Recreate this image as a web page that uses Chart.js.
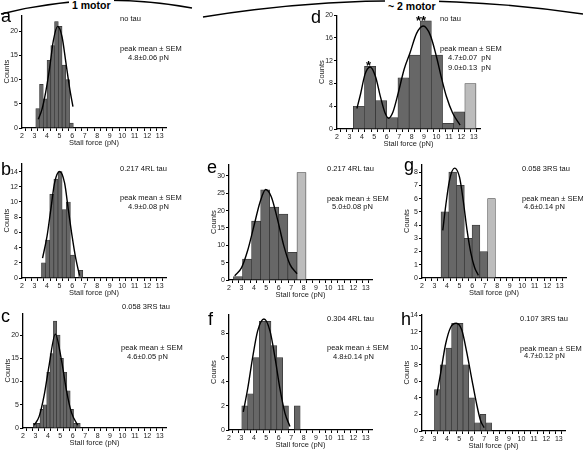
<!DOCTYPE html>
<html>
<head>
<meta charset="utf-8">
<script src="https://cdn.jsdelivr.net/npm/chart.js@4.4.1/dist/chart.umd.min.js"></script>
<style>
  body { margin: 0; background: #fff; }
  #fig { position: relative; width: 583px; height: 450px; overflow: hidden; font-family: "Liberation Sans", Arial, sans-serif; }
  #fig canvas { position: absolute; }
  .t { position: absolute; font-size: 7.5px; line-height: 9px; white-space: pre; color: #111; }
  .lt { position: absolute; font-size: 18px; line-height: 18px; color: #000; }
  .hd { position: absolute; font-weight: bold; font-size: 10.5px; line-height: 12px; background: #fff; padding: 0 3px; }
  .st { position: absolute; font-weight: bold; font-size: 13px; line-height: 13px; }
</style>
</head>
<body>
<div id="fig">
  <svg width="583" height="450" style="position:absolute;left:0;top:0">
    <path d="M 1 14 Q 95 -10 192 8" fill="none" stroke="#000" stroke-width="1.4"/>
    <path d="M 203 17 Q 393 -14 583 14" fill="none" stroke="#000" stroke-width="1.4"/>
  </svg>
  <div class="hd" style="left:69px;top:-1px">1 motor</div>
  <div class="hd" style="left:385px;top:0px">~ 2 motor</div>

  <div class="lt" style="left:1px;top:7px">a</div>
  <div class="lt" style="left:1px;top:160px">b</div>
  <div class="lt" style="left:1px;top:307px">c</div>
  <div class="lt" style="left:311px;top:8px">d</div>
  <div class="lt" style="left:207px;top:158px">e</div>
  <div class="lt" style="left:208px;top:310px">f</div>
  <div class="lt" style="left:404px;top:156px">g</div>
  <div class="lt" style="left:401px;top:310px">h</div>

  <div class="t" style="left:120px;top:13.5px">no tau</div>
  <div class="t" style="left:120px;top:43.5px">peak mean ± SEM</div>
  <div class="t" style="left:128px;top:52.5px">4.8±0.06 pN</div>

  <div class="t" style="left:120px;top:163.5px">0.217 4RL tau</div>
  <div class="t" style="left:120px;top:192.5px">peak mean ± SEM</div>
  <div class="t" style="left:128px;top:201.5px">4.9±0.08 pN</div>

  <div class="t" style="left:122px;top:301.5px">0.058 3RS tau</div>
  <div class="t" style="left:121px;top:342.5px">peak mean ± SEM</div>
  <div class="t" style="left:127px;top:351.5px">4.6±0.05 pN</div>

  <div class="t" style="left:440px;top:13.5px">no tau</div>
  <div class="t" style="left:440px;top:43.5px">peak mean ± SEM</div>
  <div class="t" style="left:448px;top:52.5px">4.7±0.07  pN</div>
  <div class="t" style="left:448px;top:62.5px">9.0±0.13  pN</div>
  <div class="st" style="left:366px;top:59px">*</div>
  <div class="st" style="left:416px;top:14px">**</div>

  <div class="t" style="left:327px;top:163.5px">0.217 4RL tau</div>
  <div class="t" style="left:327px;top:193.5px">peak mean ± SEM</div>
  <div class="t" style="left:332px;top:201.5px">5.0±0.08 pN</div>

  <div class="t" style="left:327px;top:313.5px">0.304 4RL tau</div>
  <div class="t" style="left:327px;top:342.5px">peak mean ± SEM</div>
  <div class="t" style="left:333px;top:351.5px">4.8±0.14 pN</div>

  <div class="t" style="left:522px;top:163.5px">0.058 3RS tau</div>
  <div class="t" style="left:522px;top:193.5px">peak mean ± SEM</div>
  <div class="t" style="left:524px;top:201.5px">4.6±0.14 pN</div>

  <div class="t" style="left:520px;top:313.5px">0.107 3RS tau</div>
  <div class="t" style="left:520px;top:343.5px">peak mean ± SEM</div>
  <div class="t" style="left:524px;top:350.5px">4.7±0.12 pN</div>
</div>

<script>
// bin centres (pN) and counts for each histogram
const binsA = [3.25, 3.55, 3.85, 4.15, 4.45, 4.75, 5.05, 5.35, 5.65, 5.95];
const countsA = [4, 9, 6, 14, 17, 22, 21, 13, 10, 1];
const fitAx = [3.3, 3.6, 3.9, 4.2, 4.5, 4.85, 5.2, 5.5, 5.8, 6.07];
const fitAy = [1.8, 3.9, 7.5, 12.3, 18, 21, 18.8, 13.6, 8.3, 4.4];

const binsB = [3.72, 4.05, 4.38, 4.71, 5.04, 5.37, 5.70, 6.03, 6.36, 6.69];
const countsB = [2, 5, 11, 13, 14, 9, 10, 3, 0, 1];
const fitBx = [3.64, 4.0, 4.3, 4.6, 5.0, 5.4, 5.7, 6.0, 6.3, 6.6];
const fitBy = [2.6, 5.5, 9, 12.5, 14, 12.5, 9, 5.5, 2.5, 0.3];

const binsC = [2.96, 3.23, 3.50, 3.77, 4.04, 4.31, 4.58, 4.85, 5.12, 5.39, 5.66, 5.93, 6.20, 6.47];
const countsC = [1, 1, 4, 5, 12, 16, 23, 20, 15, 12, 8, 4, 1, 1];
const fitCx = [2.9, 3.3, 3.7, 4.1, 4.6, 5.1, 5.5, 5.9, 6.4];
const fitCy = [0.6, 2.5, 7, 13.5, 20.2, 14.5, 8, 3.3, 0.6];

const binsD = [3.76, 4.66, 5.55, 6.45, 7.35, 8.25, 9.14, 10.04, 10.94, 11.83, 12.73];
const countsD = [4, 11, 5, 2, 9, 13, 19, 13, 1, 3, 8];
const fitDx = [3.6, 3.9, 4.25, 4.66, 5.1, 5.5, 5.85, 6.15, 6.5, 6.92, 7.4, 7.86, 8.4, 8.93, 9.5, 10.0, 10.4, 10.8, 11.3, 11.9];
const fitDy = [3.6, 6.2, 9.6, 10.9, 9.2, 5.6, 2.9, 1.9, 3.0, 6.3, 10.5, 13.3, 16.8, 18.1, 16.5, 12.7, 9.0, 5.7, 2.8, 0.7];

const binsE = [2.72, 3.45, 4.18, 4.91, 5.64, 6.37, 7.10, 7.83];
const countsE = [1, 6, 17, 26, 21, 19, 8, 31];
const fitEx = [2.46, 3.0, 3.5, 4.0, 4.5, 4.95, 5.4, 5.9, 6.4, 6.9, 7.47];
const fitEy = [1.2, 3.5, 8.5, 15.5, 22.5, 26.1, 24, 17.5, 10, 4.5, 1.8];

const binsF = [3.26, 3.73, 4.20, 4.67, 5.14, 5.61, 6.08, 6.55, 7.02, 7.49];
const countsF = [2, 3, 6, 9, 9, 7, 6, 2, 0, 2];
const fitFx = [3.15, 3.5, 3.9, 4.3, 4.81, 5.3, 5.7, 6.1, 6.5, 6.9];
const fitFy = [1.5, 3.4, 6, 8.2, 9.2, 8.2, 6, 3.4, 1.4, 0.3];

const binsG = [3.83, 4.45, 5.07, 5.69, 6.31, 6.93, 7.55];
const countsG = [5, 8, 7, 3, 4, 2, 6];
const fitGx = [3.66, 3.9, 4.2, 4.6, 5.0, 5.3, 5.6, 5.9, 6.2, 6.5];
const fitGy = [3.6, 5.5, 7.4, 8.3, 7.6, 5.8, 3.6, 1.9, 0.8, 0.2];

const binsH = [3.23, 3.69, 4.15, 4.61, 5.07, 5.53, 5.99, 6.45, 6.91, 7.37];
const countsH = [5, 8, 10, 13, 13, 8, 4, 1, 2, 1];
const fitHx = [3.18, 3.5, 3.9, 4.3, 4.75, 5.2, 5.6, 6.0, 6.4, 6.7, 7.0];
const fitHy = [4.3, 7, 10.5, 12.5, 13, 12.2, 9.5, 6.3, 3.2, 1.3, 0.4];

const FONT = '"Liberation Sans", Arial, sans-serif';
const X_MIN = 2, X_MAX = 13.5;
const W = 22, H = 24, PT = 5, PR = 4;
const fig = document.getElementById('fig');

function panel(L, R, T, B, ymax, ystep, bins, counts, lightIdx, fitX, fitY) {
  const c = document.createElement('canvas');
  const l = Math.round(L), r = Math.round(R), t = Math.round(T), b = Math.round(B);
  c.width = r - l + W + PR;
  c.height = b - t + PT + H;
  c.style.left = (l - W) + 'px';
  c.style.top = (t - PT) + 'px';
  fig.insertBefore(c, fig.firstChild);

  // one bin wide, in pixels
  const pxPerUnit = (r - l) / (X_MAX - X_MIN);
  const barPx = (bins[1] - bins[0]) * pxPerUnit;

  const axisGrid = { drawOnChartArea: false, tickLength: 3, color: '#000', lineWidth: 1 };
  const axisBorder = { color: '#000', width: 1.3 };

  new Chart(c, {
    type: 'bar',
    data: {
      datasets: [
        {
          type: 'line',
          data: fitX.map((x, i) => ({ x: x, y: fitY[i] })),
          borderColor: '#000',
          borderWidth: 1.4,
          pointRadius: 0,
          cubicInterpolationMode: 'monotone',
          order: 0,
        },
        {
          type: 'bar',
          data: bins.map((x, i) => ({ x: x, y: counts[i] })),
          backgroundColor: bins.map((_, i) => lightIdx.includes(i) ? '#bcbcbc' : '#676767'),
          borderColor: '#333333',
          borderWidth: 0.7,
          barThickness: barPx,
          order: 1,
        },
      ],
    },
    options: {
      responsive: false,
      animation: false,
      devicePixelRatio: 1,
      layout: { padding: { top: PT, right: PR, left: 0, bottom: 0 } },
      plugins: { legend: { display: false }, tooltip: { enabled: false } },
      scales: {
        x: {
          type: 'linear',
          min: X_MIN,
          max: X_MAX,
          offset: false,
          grid: axisGrid,
          border: axisBorder,
          ticks: {
            stepSize: 0.5,
            autoSkip: false,
            maxRotation: 0,
            includeBounds: false,
            padding: 1,
            color: '#222',
            font: { size: 7, family: FONT },
            callback: (v) => Number.isInteger(v) ? v : '',
          },
          title: { display: true, text: 'Stall force (pN)', color: '#222', font: { size: 7.5, family: FONT }, padding: { top: 0, bottom: 5 } },
          afterFit: (s) => { s.height = H; },
        },
        y: {
          min: 0,
          max: ymax,
          grid: axisGrid,
          border: axisBorder,
          ticks: { stepSize: ystep, includeBounds: false, padding: 1, color: '#222', font: { size: 7, family: FONT } },
          title: { display: true, text: 'Counts', color: '#222', font: { size: 7.5, family: FONT }, padding: { top: 2, bottom: 2 } },
          afterFit: (s) => { s.width = W; },
        },
      },
    },
  });
}

panel(22.3, 165.5, 15, 128, 23.3, 5, binsA, countsA, [], fitAx, fitAy);
panel(22.3, 165.5, 163.3, 277.7, 15.1, 2, binsB, countsB, [], fitBx, fitBy);
panel(22.7, 165.7, 312.7, 428, 24.7, 5, binsC, countsC, [], fitCx, fitCy);
panel(337, 480, 15, 128.7, 20, 2, binsD, countsD, [10], fitDx, fitDy);
panel(229.3, 372.3, 164, 280, 33.4, 5, binsE, countsE, [7], fitEx, fitEy);
panel(229, 372, 314, 430, 9.6, 2, binsF, countsF, [], fitFx, fitFy);
panel(422, 565.5, 164, 278.3, 8.6, 1, binsG, countsG, [6], fitGx, fitGy);
panel(421.7, 565, 314.3, 430.7, 14.1, 2, binsH, countsH, [], fitHx, fitHy);
</script>
</body>
</html>
